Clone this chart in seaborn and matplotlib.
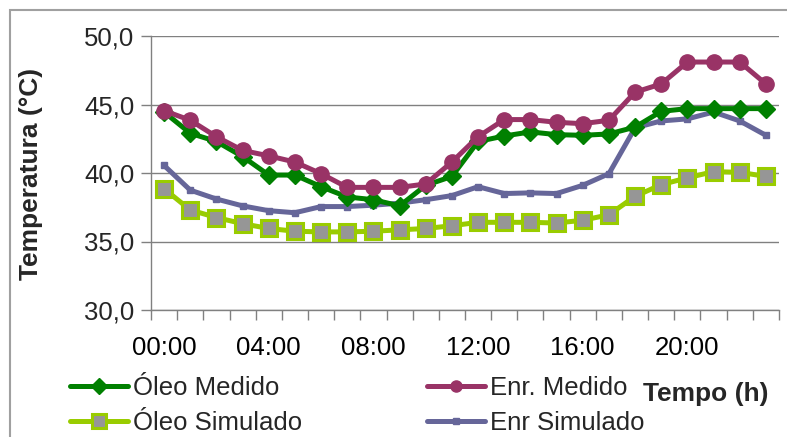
import matplotlib
matplotlib.use("Agg")
import matplotlib.pyplot as plt
import seaborn as sns
import numpy as np
import pandas as pd
from matplotlib.lines import Line2D
from matplotlib.patches import Rectangle

hours = [f"{h:02d}:00" for h in range(24)]
oleo_medido = [44.45, 42.9, 42.3, 41.2, 39.85, 39.85, 39.0, 38.25, 38.05, 37.6, 39.1, 39.75,
               42.3, 42.7, 43.0, 42.8, 42.75, 42.85, 43.35, 44.5, 44.7, 44.7, 44.7, 44.7]
enr_medido = [44.55, 43.85, 42.65, 41.65, 41.25, 40.8, 39.95, 38.95, 38.95, 38.95, 39.2, 40.8,
              42.65, 43.9, 43.9, 43.7, 43.6, 43.85, 45.9, 46.5, 48.1, 48.1, 48.1, 46.5]
oleo_simulado = [38.85, 37.3, 36.75, 36.3, 35.95, 35.75, 35.7, 35.7, 35.75, 35.85, 35.95, 36.15,
                 36.4, 36.4, 36.4, 36.35, 36.55, 36.95, 38.3, 39.15, 39.65, 40.1, 40.05, 39.75]
enr_simulado = [40.55, 38.75, 38.1, 37.6, 37.25, 37.1, 37.55, 37.55, 37.65, 37.8, 38.05, 38.35,
                39.0, 38.5, 38.55, 38.5, 39.1, 39.95, 43.3, 43.8, 43.95, 44.45, 43.8, 42.75]
tick_labels = ["00:00", "04:00", "08:00", "12:00", "16:00", "20:00"]
y_ticks = [30, 35, 40, 45, 50]
series_names = ["Óleo Medido", "Enr. Medido", "Óleo Simulado", "Enr Simulado"]

sns.set_theme(style="white")
plt.rcParams['font.family'] = ['Liberation Sans', 'DejaVu Sans']

W, H = 787, 437
fig = plt.figure(figsize=(W / 100, H / 100), dpi=100)
ax = fig.add_axes([151 / W, 1 - 310 / H, (779 - 151) / W, (310 - 36) / H])

x = np.arange(24)
styles = {
    "Óleo Medido": dict(color="#008000", marker="D", markersize=9.5, markerfacecolor="#008000",
                        markeredgecolor="#008000", linewidth=3.6),
    "Enr. Medido": dict(color="#993366", marker="o", markersize=11, markerfacecolor="#993366",
                        markeredgecolor="#993366", linewidth=3.6),
    "Óleo Simulado": dict(color="#99CC00", marker="s", markersize=11, markerfacecolor="#969696",
                          markeredgecolor="#99CC00", markeredgewidth=2.2, linewidth=3.6),
    "Enr Simulado": dict(color="#666699", marker="s", markersize=5, markerfacecolor="#666699",
                         markeredgecolor="#666699", linewidth=3.6),
}
legend_ms = {"Óleo Medido": 8, "Enr. Medido": 8, "Óleo Simulado": 10, "Enr Simulado": 4}
data = {"Óleo Medido": oleo_medido, "Enr. Medido": enr_medido,
        "Óleo Simulado": oleo_simulado, "Enr Simulado": enr_simulado}
order = ["Óleo Simulado", "Enr Simulado", "Óleo Medido", "Enr. Medido"]
for name in order:
    st = styles[name]
    sns.lineplot(x=x, y=data[name], ax=ax, color=st["color"], linewidth=st["linewidth"],
                 marker=st["marker"], markersize=st["markersize"],
                 markerfacecolor=st["markerfacecolor"], markeredgecolor=st["markeredgecolor"],
                 markeredgewidth=st.get("markeredgewidth", 1), legend=False, zorder=3)

ax.set_xlim(-0.5, 23.5)
ax.set_ylim(30, 50)
ax.set_yticks(y_ticks)
ax.set_yticklabels([f"{v:.1f}".replace(".", ",") for v in y_ticks], fontsize=18.5)
ax.set_xticks([0, 4, 8, 12, 16, 20])
ax.set_xticklabels(tick_labels, fontsize=18.5)
ax.set_xticks(np.arange(-0.5, 24, 1), minor=True)
ax.tick_params(axis="x", which="major", length=0, pad=19, colors="black")
ax.tick_params(axis="x", which="minor", length=7, width=1, color="#808080", direction="out",
               bottom=True)
ax.tick_params(axis="y", which="major", length=7, width=1, color="#808080", direction="out",
               left=True, pad=5)
ax.grid(axis="y", color="#808080", linewidth=1)
ax.set_axisbelow(True)
for s in ["top", "right"]:
    ax.spines[s].set_visible(False)
for s in ["left", "bottom"]:
    ax.spines[s].set_color("#808080")
    ax.spines[s].set_linewidth(1)
ax.set_xlabel("")
ax.set_ylabel("")

fig.text(31 / W, 1 - 174 / H, "Temperatura (°C)", rotation=90, fontsize=19, fontweight="bold",
         ha="center", va="center")
fig.text(706 / W, 1 - 394 / H, "Tempo (h)", fontsize=19, fontweight="bold",
         ha="center", va="center")

handles = []
for name in series_names:
    st = styles[name]
    handles.append(Line2D([], [], color=st["color"], linewidth=st["linewidth"], marker=st["marker"],
                          markersize=legend_ms[name], markerfacecolor=st["markerfacecolor"],
                          markeredgecolor=st["markeredgecolor"],
                          markeredgewidth=st.get("markeredgewidth", 1)))
leg_order = [0, 2, 1, 3]
fig.legend([handles[i] for i in leg_order], [series_names[i] for i in leg_order],
           ncol=2, loc="upper left", bbox_to_anchor=(70 / W, 1 - 376 / H), frameon=False,
           fontsize=18.5, handlelength=2.25, handletextpad=0.2, columnspacing=4.87,
           labelspacing=0.42, borderpad=0, borderaxespad=0)

fig.add_artist(Rectangle((10 / W, -0.1), 1.2, 1 - 10 / H + 0.1, transform=fig.transFigure,
                         fill=False, edgecolor="#A0A0A0", linewidth=1.5))

fig.savefig("out.png", dpi=100)
